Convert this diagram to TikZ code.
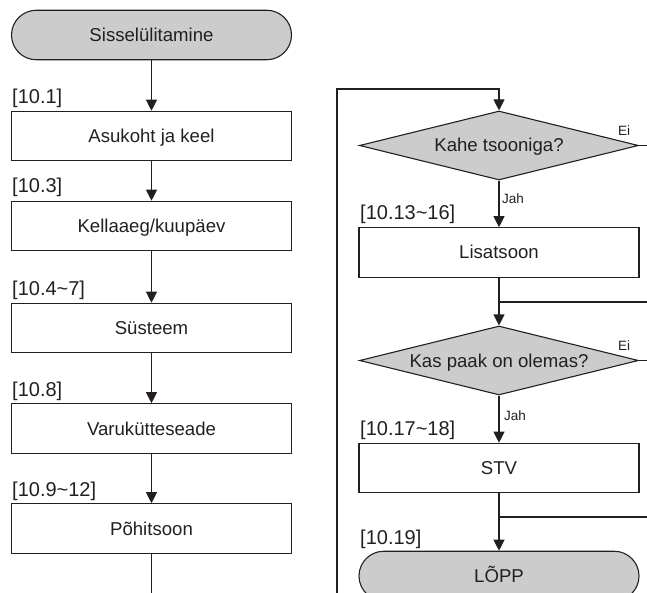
\documentclass[tikz,border=0pt]{standalone}
\usepackage{fontspec}
\setmainfont{Liberation Sans}
\usetikzlibrary{shapes.geometric,arrows.meta}
\definecolor{fillgray}{RGB}{204,204,204}
\definecolor{ink}{RGB}{35,31,32}
\tikzset{
  line/.style={line width=1.1pt, draw=ink},
  arr/.style={line, -{Triangle[width=11pt,length=11pt]}},
  box/.style={line, rectangle, minimum width=280pt, minimum height=49.5pt, inner sep=0pt,
    font=\fontsize{18.6}{20}\selectfont, text=ink, text height=13pt, text depth=0pt},
  term/.style={box, fill=fillgray, rounded corners=24.75pt},
  dec/.style={line, diamond, fill=fillgray, shape aspect=4, minimum width=279pt, minimum height=69pt,
    inner sep=0pt, font=\fontsize{18.6}{20}\selectfont, text=ink, text height=13pt, text depth=0pt},
  ref/.style={anchor=base west, inner sep=0pt, font=\fontsize{20}{22}\selectfont, text=ink},
  yn/.style={anchor=base west, inner sep=0pt, font=\fontsize{13.5}{15}\selectfont, text=ink},
}
\begin{document}
\begin{tikzpicture}[x=1pt,y=-1pt]
\useasboundingbox (0,0) rectangle (647,593);
\clip (0,0) rectangle (647,593);
% left column
\node[term] (start) at (151.5,35) {Sisselülitamine};
\node[box] (b1) at (151.5,136) {Asukoht ja keel};
\node[box] (b2) at (151.5,226) {Kellaaeg/kuupäev};
\node[box] (b3) at (151.5,328) {Süsteem};
\node[box] (b4) at (151.5,428.5) {Varukütteseade};
\node[box] (b5) at (151.5,528.5) {Põhitsoon};
\node[ref] (r1) at (12,103.5) {[10.1]};
\node[ref] (r2) at (12,193) {[10.3]};
\node[ref] (r3) at (12,295) {[10.4\char"007E 7]};
\node[ref] (r4) at (12,396) {[10.8]};
\node[ref] (r5) at (12,496) {[10.9\char"007E 12]};
\draw[arr] (start.south) -- (b1.north);
\draw[arr] (b1.south) -- (b2.north);
\draw[arr] (b2.south) -- (b3.north);
\draw[arr] (b3.south) -- (b4.north);
\draw[arr] (b4.south) -- (b5.north);
\coordinate (lout) at (151.5,605);
\draw[line] (b5.south) -- (lout);
% right column
\node[dec] (d1) at (499,145.5) {Kahe tsooniga?};
\node[box] (b6) at (499,252.5) {Lisatsoon};
\node[dec] (d2) at (499,360.5) {Kas paak on olemas?};
\node[box] (b7) at (499,468) {STV};
\node[term] (end) at (499,576) {LÕPP};
\node[ref] (r6) at (360,219.5) {[10.13\char"007E 16]};
\node[ref] (r7) at (360,435) {[10.17\char"007E 18]};
\node[ref] (r8) at (360,544.5) {[10.19]};
\node[yn] (y1) at (502,204) {Jah};
\node[yn] (y2) at (504,420) {Jah};
\node[yn] (n1) at (618,136) {Ei};
\node[yn] (n2) at (618,350.5) {Ei};
% loop back
\coordinate (lpb) at (337,605);
\coordinate (lpt) at (337,89);
\coordinate (lpa) at (499,89);
\draw[arr] (lpb) -- (lpt) -- (lpa) -- (d1.north);
\draw[arr] (d1.south) -- (b6.north);
\draw[arr] (b6.south) -- (d2.north);
\draw[arr] (d2.south) -- (b7.north);
\draw[arr] (b7.south) -- (end.north);
% exits to the right
\coordinate (j1) at (499,302);
\coordinate (j1r) at (660,302);
\coordinate (j2) at (499,517);
\coordinate (j2r) at (660,517);
\coordinate (e1) at (660,145.5);
\coordinate (e2) at (660,360.5);
\draw[line] (j1) -- (j1r);
\draw[line] (j2) -- (j2r);
\draw[line] (d1.east) -- (e1);
\draw[line] (d2.east) -- (e2);
\end{tikzpicture}
\end{document}
